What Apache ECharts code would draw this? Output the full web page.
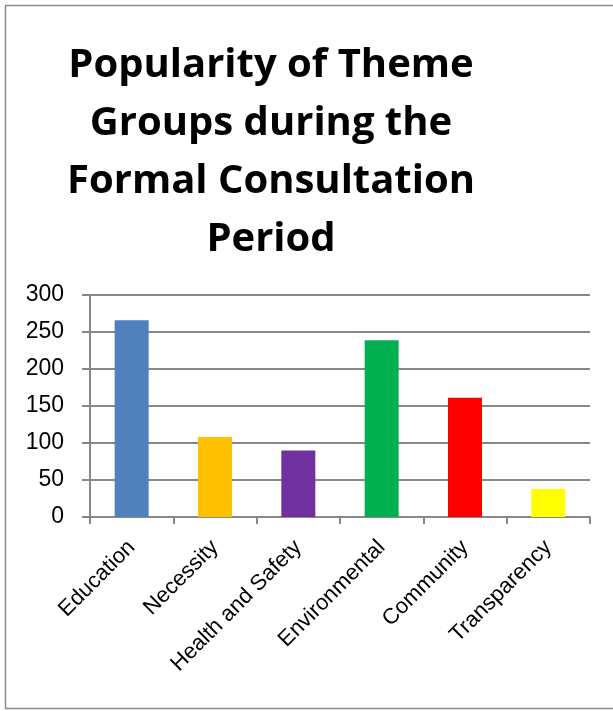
<!DOCTYPE html>
<html><head><meta charset="utf-8">
<script src="https://cdn.jsdelivr.net/npm/echarts@6/dist/echarts.min.js"></script>
<style>html,body{margin:0;padding:0;background:#fff}#c{width:613px;height:711px}</style>
</head><body><div id="c"></div>
<script>
const categories = ['Education','Necessity','Health and Safety','Environmental','Community','Transparency'];
const values = [266,108,90,239,161,38];
const barColors = ['#4F81BD','#FFC000','#7030A0','#00B050','#FF0000','#FFFF00'];
const yTicks = [0,50,100,150,200,250,300];
const titleText = 'Popularity of Theme\nGroups during the\nFormal Consultation\nPeriod';

const chart = echarts.init(document.getElementById('c'), null, {renderer:'canvas'});
chart.setOption({
  backgroundColor:'#fff',
  animation:false,
  graphic:[{type:'rect',shape:{x:5.5,y:5.5,width:640,height:703},style:{fill:'none',stroke:'#8c8c8c',lineWidth:1.5},silent:true}],
  title:{text:titleText,left:266,top:32,textAlign:'center',
    textStyle:{fontFamily:'Open Sans',fontWeight:'bold',fontSize:40,lineHeight:58,color:'#000'}},
  grid:{left:90,right:23,top:295,bottom:194,containLabel:false},
  xAxis:{type:'category',data:categories,
    axisLine:{lineStyle:{color:'#888',width:2}},
    axisTick:{show:true,alignWithLabel:false,length:7,lineStyle:{color:'#888',width:2}},
    axisLabel:{rotate:45,fontFamily:'Liberation Sans',fontSize:22,color:'#000',margin:27,interval:0}},
  yAxis:{type:'value',min:0,max:300,interval:50,
    axisLine:{show:true,lineStyle:{color:'#888',width:2}},
    axisTick:{show:true,length:8,lineStyle:{color:'#888',width:2}},
    splitLine:{lineStyle:{color:'#888',width:2}},
    axisLabel:{fontFamily:'Liberation Sans',fontSize:23,color:'#000',margin:26,
      formatter:v=>yTicks.includes(v)?String(v):''}},
  series:[{type:'bar',barWidth:34,
    data:values.map((v,i)=>({value:v,itemStyle:{color:barColors[i]}}))}]
});
</script></body></html>
